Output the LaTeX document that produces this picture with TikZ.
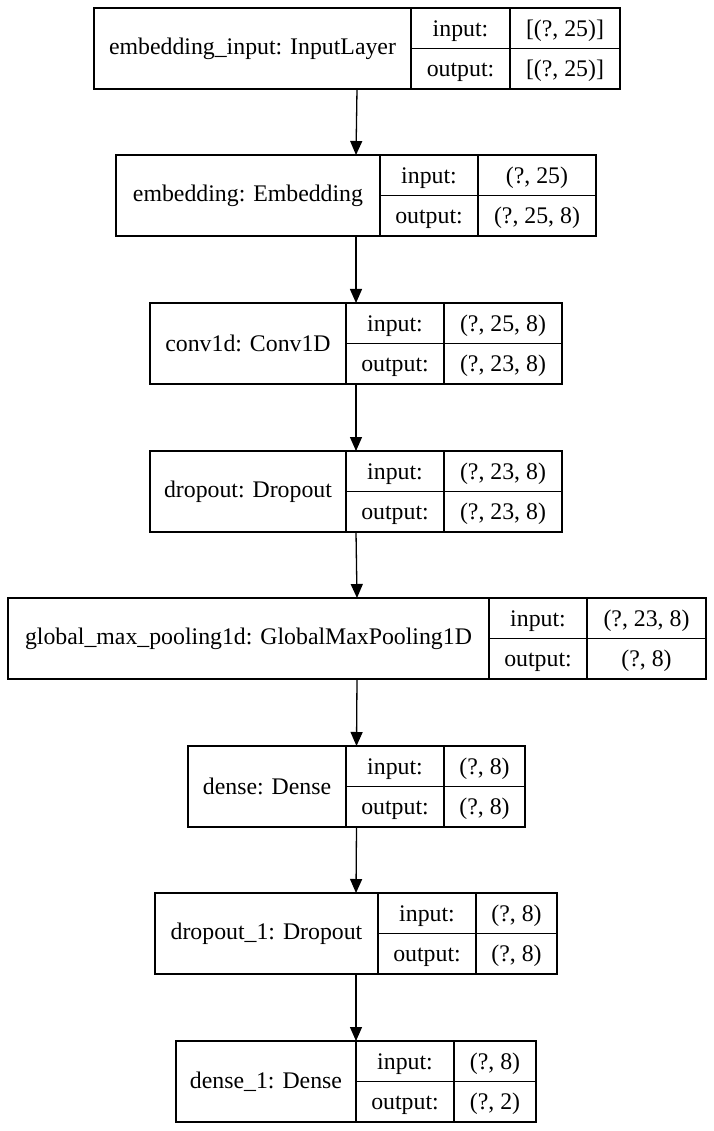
\documentclass[tikz,border=0pt]{standalone}
\usepackage{fontspec}
\setmainfont{Liberation Serif}
\usepackage{tikz}
\usetikzlibrary{positioning, arrows.meta}

% one Keras layer: id, left x, top y, name width, label width, value width, name, input, output
\newcommand{\kerasbox}[9]{%
    \node[layerbox, minimum width={(#4+#5+#6)*1pt}, anchor=north west] (#1) at (#2pt,-#3pt) {};
    \node[namecell, minimum width=#4pt, anchor=north west] (#1-name) at (#1.north west) {#7};
    \node[portcell, minimum width=#5pt, anchor=north west] (#1-inlbl) at (#1-name.north east) {input:};
    \node[portcell, minimum width=#5pt, anchor=north west] (#1-outlbl) at (#1-inlbl.south west) {output:};
    \node[portcell, minimum width=#6pt, anchor=north west] (#1-inval) at (#1-inlbl.north east) {#8};
    \node[portcell, minimum width=#6pt, anchor=north west] (#1-outval) at (#1-inval.south west) {#9};
}

\begin{document}
\begin{tikzpicture}[
    layerbox/.style={rectangle, draw=black, line width=1.3pt, inner sep=0pt, outer sep=0pt, minimum height=81pt},
    namecell/.style={rectangle, draw=black, line width=1.3pt, inner sep=0pt, outer sep=0pt, minimum height=81pt, font=\fontsize{23.8}{28}\selectfont},
    portcell/.style={rectangle, draw=black, line width=1.3pt, inner sep=0pt, outer sep=0pt, minimum height=40.5pt, text height=16pt, text depth=0pt, font=\fontsize{23.8}{28}\selectfont},
    arrow/.style={-{Triangle[length=14pt, width=12pt]}, line width=1.3pt}
]
    \useasboundingbox (0,0) rectangle (713pt,-1131pt);

    % Layers
    \kerasbox{l1}{94}{8}{317}{99}{110}{embedding\_input: InputLayer}{[(?, 25)]}{[(?, 25)]}
    \kerasbox{l2}{116}{155}{264}{98}{118}{embedding: Embedding}{(?, 25)}{(?, 25, 8)}
    \kerasbox{l3}{150}{303}{196}{98}{118}{conv1d: Conv1D}{(?, 25, 8)}{(?, 23, 8)}
    \kerasbox{l4}{150}{451}{196}{98}{118}{dropout: Dropout}{(?, 23, 8)}{(?, 23, 8)}
    \kerasbox{l5}{8}{598}{481}{98}{119}{global\_max\_pooling1d: GlobalMaxPooling1D}{(?, 23, 8)}{(?, 8)}
    \kerasbox{l6}{188}{746}{158}{98}{81}{dense: Dense}{(?, 8)}{(?, 8)}
    \kerasbox{l7}{155}{893}{223}{98}{81}{dropout\_1: Dropout}{(?, 8)}{(?, 8)}
    \kerasbox{l8}{176}{1041}{180}{98}{82}{dense\_1: Dense}{(?, 8)}{(?, 2)}

    % Connections
    \foreach \a/\b in {l1/l2, l2/l3, l3/l4, l4/l5, l5/l6, l6/l7, l7/l8} {
        \draw[arrow] (\a.south) -- (\b.north);
    }
\end{tikzpicture}
\end{document}
